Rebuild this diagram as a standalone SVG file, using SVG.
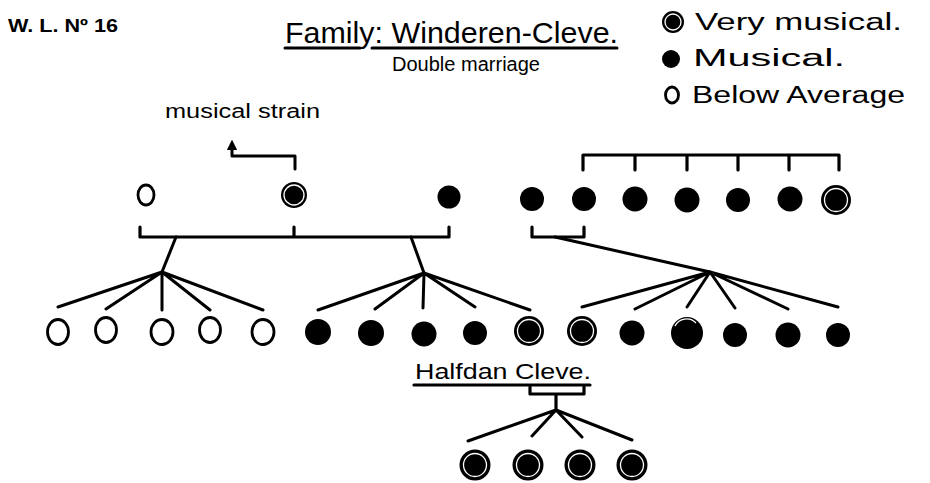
<svg xmlns="http://www.w3.org/2000/svg" width="930" height="483" viewBox="0 0 930 483">
<defs>
<style>
text{font-family:"Liberation Sans","DejaVu Sans",sans-serif;fill:#000}
.ln{stroke:#000;stroke-width:3;fill:none;stroke-linecap:round;stroke-linejoin:round}
.br{stroke:#000;stroke-width:3.2;fill:none;stroke-linecap:round;stroke-linejoin:round}
.op{fill:#fff;stroke:#000;stroke-width:2.8}
.fm{fill:#000}
.vmr{fill:none;stroke:#fff;stroke-width:1.3}
</style>
<marker id="ah" viewBox="0 0 10 10" refX="3" refY="5" markerWidth="3.5" markerHeight="3.5" orient="auto"><path d="M0,0 L10,5 L0,10 Z" fill="#000"/></marker>
</defs>
<rect width="930" height="483" fill="#fff"/>

<g id="header">
<text x="8" y="32" font-size="19" font-weight="bold" textLength="110" lengthAdjust="spacingAndGlyphs">W. L. Nº 16</text>
<text x="285" y="43" font-size="30" textLength="333" lengthAdjust="spacingAndGlyphs">Family: Winderen-Cleve.</text>
<path class="ln" d="M285,48 H360 M372,48 H617" stroke-width="2"/>
<text x="392" y="71" font-size="20" textLength="148" lengthAdjust="spacingAndGlyphs">Double marriage</text>
</g>

<g id="legend">
<circle cx="673" cy="22" r="11" class="fm"/><circle cx="673" cy="22" r="8" class="vmr"/>
<text x="695" y="30" font-size="23" textLength="207" lengthAdjust="spacingAndGlyphs">Very musical.</text>
<circle cx="671" cy="59" r="9" class="fm"/>
<text x="693" y="66" font-size="23" textLength="152" lengthAdjust="spacingAndGlyphs">Musical.</text>
<ellipse cx="672" cy="95" rx="6.5" ry="8" class="op" stroke-width="2.8"/>
<text x="692" y="103" font-size="23" textLength="213" lengthAdjust="spacingAndGlyphs">Below Average</text>
</g>

<g id="strain-label">
<text x="165" y="118" font-size="20" textLength="155" lengthAdjust="spacingAndGlyphs">musical strain</text>
</g>

<g id="connectors">
<path class="ln" d="M295,169 V156 H232 V147" marker-end="url(#ah)"/>
<path class="br" d="M583,170 V155 H839 V170 M635,155 V170 M687,155 V170 M738,155 V170 M789,155 V170"/>
<path class="br" d="M140,227 V237 H449 V227 M294,227 V237"/>
<path class="br" d="M532,227 V237 H584 V227"/>
<path class="ln" d="M176,237 L162,272" stroke-width="3.5"/>
<path class="ln" d="M411,237 L424,273" stroke-width="3.5"/>
<path class="ln" d="M555,237 L710,272"/>
<path class="ln" d="M162,272 L58,307 M162,272 L106,309 M162,272 V310 M162,272 L210,310 M162,272 L263,310"/>
<path class="ln" d="M424,273 L318,310 M424,273 L375,309 M424,273 L423,308 M424,273 L475,307 M424,273 L530,310"/>
<path class="ln" d="M710,272 L582,307 M710,272 L635,309 M710,272 L687,307 M710,272 L735,308 M710,272 L788,309 M710,272 L838,307"/>
<path class="br" d="M414,385 H590" stroke-width="2"/>
<path class="br" d="M530,387 V394 H584 V387 M556,394 V410"/>
<path class="ln" d="M556,410 L468,441 M556,410 L532,436 M556,410 L582,437 M556,410 L632,440"/>
</g>

<g id="gen1">
<g id="p1-1"><ellipse cx="146" cy="195" rx="8" ry="10" class="op"/></g>
<g id="p1-2"><circle cx="294" cy="195" r="13" class="fm"/><circle cx="294" cy="195" r="10" class="vmr"/></g>
<g id="p1-3"><circle cx="449" cy="197" r="11.5" class="fm"/></g>
<g id="p1-4"><circle cx="532" cy="199" r="12" class="fm"/></g>
<g id="p1-5"><circle cx="584" cy="199" r="12" class="fm"/></g>
<g id="p1-6"><circle cx="635" cy="199" r="12.5" class="fm"/></g>
<g id="p1-7"><circle cx="687" cy="200" r="12.5" class="fm"/></g>
<g id="p1-8"><circle cx="738" cy="200" r="12" class="fm"/></g>
<g id="p1-9"><circle cx="790" cy="199" r="12.5" class="fm"/></g>
<g id="p1-10"><circle cx="836" cy="200" r="15" class="fm"/><circle cx="836" cy="200" r="11.5" class="vmr"/></g>
</g>

<g id="gen2">
<g id="c-1"><ellipse cx="58" cy="332" rx="10.5" ry="12.5" class="op" stroke-width="3.5"/></g>
<g id="c-2"><ellipse cx="106" cy="330" rx="10.5" ry="12.5" class="op" stroke-width="3.5"/></g>
<g id="c-3"><ellipse cx="162" cy="332" rx="11" ry="12.5" class="op" stroke-width="3.5"/></g>
<g id="c-4"><ellipse cx="210" cy="330" rx="10.5" ry="12.5" class="op" stroke-width="3.5"/></g>
<g id="c-5"><ellipse cx="263" cy="332" rx="11" ry="12.5" class="op" stroke-width="3.5"/></g>
<g id="c-6"><circle cx="318" cy="332" r="13" class="fm"/></g>
<g id="c-7"><circle cx="371" cy="333" r="13" class="fm"/></g>
<g id="c-8"><circle cx="424" cy="334" r="12.5" class="fm"/></g>
<g id="c-9"><circle cx="475" cy="333" r="12" class="fm"/></g>
<g id="c-10"><circle cx="529" cy="331" r="15" class="fm"/><circle cx="529" cy="331" r="11.5" class="vmr"/></g>
<g id="c-11"><circle cx="582" cy="331" r="15" class="fm"/><circle cx="582" cy="331" r="11.5" class="vmr"/></g>
<g id="c-12"><circle cx="632" cy="333" r="12.5" class="fm"/></g>
<g id="c-13"><circle cx="687" cy="333" r="16" class="fm"/><path d="M675,326 A13,13 0 0 1 696,323" class="vmr"/></g>
<g id="c-14"><circle cx="735" cy="335" r="12" class="fm"/></g>
<g id="c-15"><circle cx="788" cy="335" r="12.5" class="fm"/></g>
<g id="c-16"><circle cx="838" cy="335" r="12" class="fm"/></g>
</g>

<g id="halfdan">
<text x="415" y="379" font-size="22" textLength="176" lengthAdjust="spacingAndGlyphs">Halfdan Cleve.</text>
</g>

<g id="gen3">
<g id="g3-1"><circle cx="475" cy="465" r="15.5" class="fm"/><circle cx="475" cy="465" r="11.5" class="vmr"/></g>
<g id="g3-2"><circle cx="528" cy="465" r="15.5" class="fm"/><circle cx="528" cy="465" r="11.5" class="vmr"/></g>
<g id="g3-3"><circle cx="580" cy="465" r="15.5" class="fm"/><circle cx="580" cy="465" r="11.5" class="vmr"/></g>
<g id="g3-4"><circle cx="632" cy="465" r="15.5" class="fm"/><circle cx="632" cy="465" r="11.5" class="vmr"/></g>
</g>
</svg>
